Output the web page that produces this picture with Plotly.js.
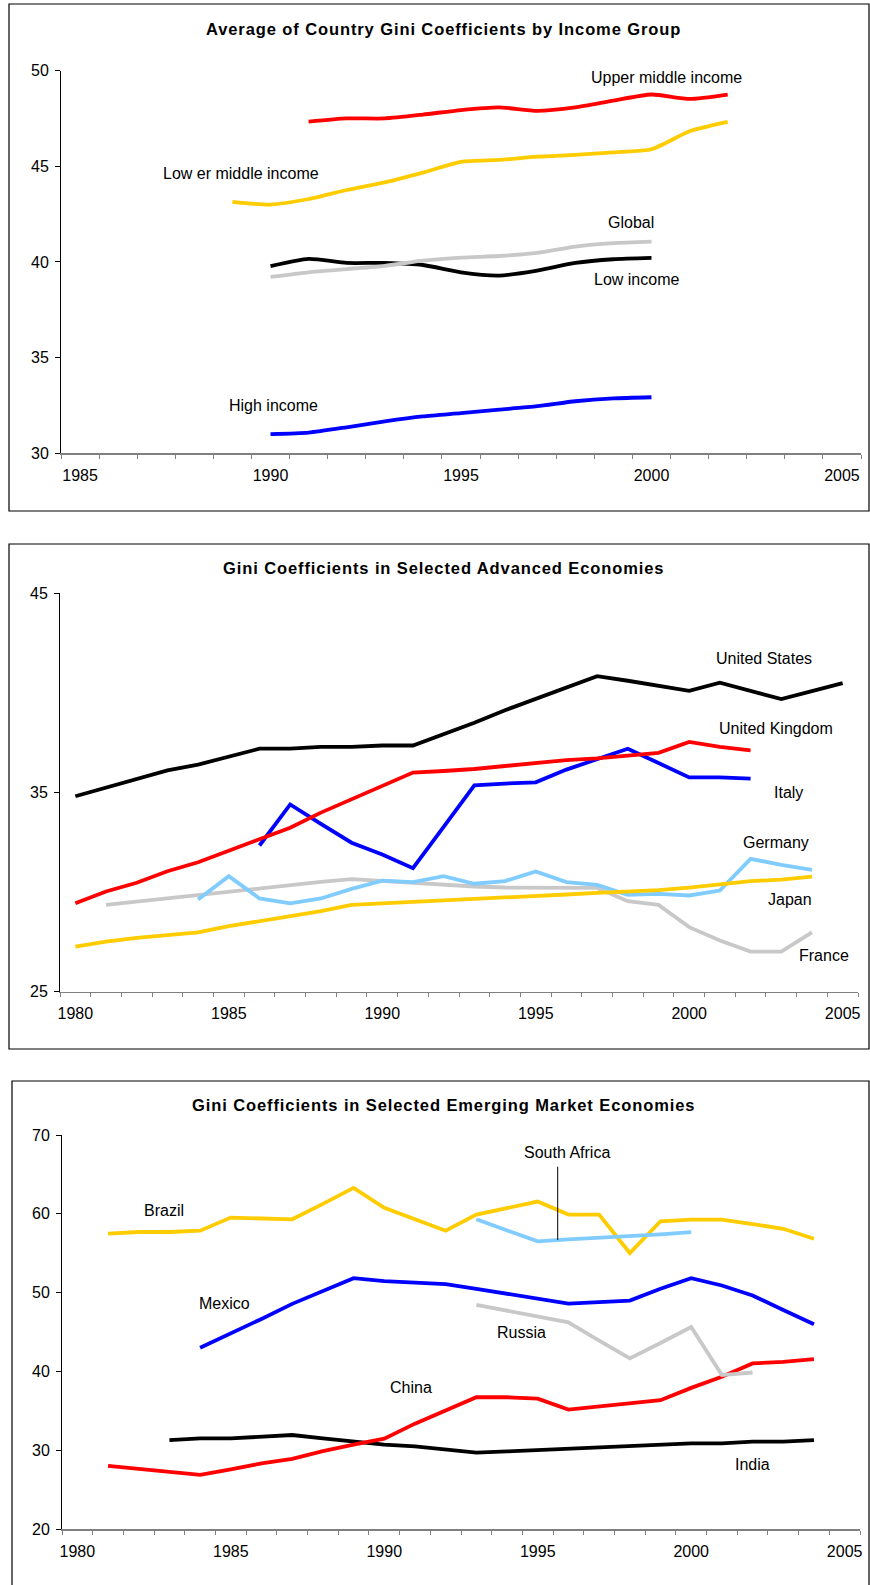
<!DOCTYPE html>
<html>
<head>
<meta charset="utf-8">
<script src="https://cdn.plot.ly/plotly-3.0.1.min.js"></script>
<style>
  html, body { margin: 0; padding: 0; background: #ffffff; }
  #chart { width: 870px; height: 1585px; }
</style>
</head>
<body>
<div id="chart"></div>
<script>
// ---------- Panel 1: Average of Country Gini Coefficients by Income Group ----------
const p1TickYears = [1985, 1990, 1995, 2000, 2005];
const upperMiddleYears = [1991, 1992, 1993, 1994, 1995, 1996, 1997, 1998, 1999, 2000, 2001, 2002];
const upperMiddle = [47.33, 47.5, 47.5, 47.7, 47.94, 48.08, 47.9, 48.08, 48.43, 48.75, 48.52, 48.75];
const lowerMiddleYears = [1989, 1990, 1991, 1992, 1993, 1994, 1995, 1996, 1997, 1998, 1999, 2000, 2001, 2002];
const lowerMiddle = [43.14, 43.0, 43.29, 43.76, 44.16, 44.67, 45.23, 45.33, 45.5, 45.6, 45.73, 45.89, 46.83, 47.32];
const p1Years = [1990, 1991, 1992, 1993, 1994, 1995, 1996, 1997, 1998, 1999, 2000];
const globalGini = [39.22, 39.46, 39.63, 39.8, 40.07, 40.23, 40.31, 40.47, 40.8, 40.98, 41.06];
const lowIncome = [39.78, 40.16, 39.95, 39.95, 39.84, 39.46, 39.29, 39.55, 39.95, 40.14, 40.21];
const highIncome = [31.0, 31.08, 31.36, 31.67, 31.93, 32.1, 32.28, 32.46, 32.72, 32.87, 32.93];
const p1YTicks = [30, 35, 40, 45, 50];

// ---------- Panel 2: Gini Coefficients in Selected Advanced Economies ----------
const p2TickYears = [1980, 1985, 1990, 1995, 2000, 2005];
const usYears = [1980, 1981, 1982, 1983, 1984, 1985, 1986, 1987, 1988, 1989, 1990, 1991, 1992,
                 1993, 1994, 1995, 1996, 1997, 1998, 1999, 2000, 2001, 2002, 2003, 2004, 2005];
const unitedStates = [34.81, 35.24, 35.7, 36.11, 36.4, 36.79, 37.2, 37.2, 37.29, 37.29, 37.36, 37.36, 37.93,
                      38.5, 39.13, 39.69, 40.27, 40.84, 40.61, 40.36, 40.1, 40.51, 40.1, 39.69, 40.09, 40.49];
const ukYears = [1980, 1981, 1982, 1983, 1984, 1985, 1986, 1987, 1988, 1989, 1990, 1991,
                 1992, 1993, 1994, 1995, 1996, 1997, 1998, 1999, 2000, 2001, 2002];
const unitedKingdom = [29.44, 30.03, 30.47, 31.05, 31.5, 32.09, 32.64, 33.23, 33.99, 34.66, 35.33, 36.0,
                       36.08, 36.18, 36.33, 36.48, 36.63, 36.71, 36.87, 36.99, 37.54, 37.29, 37.12];
const italyYears = [1986, 1987, 1988, 1989, 1990, 1991, 1992, 1993, 1994, 1995, 1996, 1997, 1998, 1999, 2000, 2001, 2002];
const italy = [32.34, 34.4, 33.43, 32.48, 31.89, 31.2, 33.27, 35.36, 35.45, 35.51, 36.15, 36.7, 37.2, 36.48, 35.76, 35.76, 35.7];
const germanyYears = [1984, 1985, 1986, 1987, 1988, 1989, 1990, 1991, 1992, 1993, 1994, 1995, 1996,
                      1997, 1998, 1999, 2000, 2001, 2002, 2003, 2004];
const germany = [29.63, 30.8, 29.68, 29.44, 29.68, 30.16, 30.58, 30.5, 30.8, 30.42, 30.55, 31.04, 30.5,
                 30.36, 29.86, 29.91, 29.83, 30.08, 31.67, 31.37, 31.12];
const franceYears = [1981, 1982, 1983, 1984, 1985, 1986, 1987, 1988, 1989, 1990, 1991, 1992, 1993,
                     1994, 1995, 1996, 1997, 1998, 1999, 2000, 2001, 2002, 2003, 2004];
const france = [29.36, 29.53, 29.7, 29.86, 30.03, 30.2, 30.36, 30.51, 30.65, 30.55, 30.47, 30.36, 30.28,
                30.23, 30.23, 30.23, 30.21, 29.54, 29.36, 28.24, 27.57, 27.01, 27.01, 27.98];
const japanYears = [1980, 1981, 1982, 1983, 1984, 1985, 1986, 1987, 1988, 1989, 1990, 1991, 1992,
                    1993, 1994, 1995, 1996, 1997, 1998, 1999, 2000, 2001, 2002, 2003, 2004];
const japan = [27.26, 27.51, 27.7, 27.85, 27.98, 28.29, 28.54, 28.79, 29.04, 29.36, 29.43, 29.49, 29.58,
               29.64, 29.73, 29.81, 29.88, 29.96, 30.01, 30.1, 30.23, 30.4, 30.55, 30.63, 30.78];
const p2YTicks = [25, 35, 45];

// ---------- Panel 3: Gini Coefficients in Selected Emerging Market Economies ----------
const p3TickYears = [1980, 1985, 1990, 1995, 2000, 2005];
const brazilYears = [1981, 1982, 1983, 1984, 1985, 1986, 1987, 1988, 1989, 1990, 1991, 1992,
                     1993, 1994, 1995, 1996, 1997, 1998, 1999, 2000, 2001, 2002, 2003, 2004];
const brazil = [57.48, 57.69, 57.69, 57.86, 59.52, 59.35, 59.3, 61.26, 63.29, 60.75, 59.35, 57.86,
                59.9, 60.75, 61.55, 59.9, 59.9, 55.02, 59.05, 59.26, 59.26, 58.7, 58.1, 56.84];
const southAfricaYears = [1993, 1994, 1995, 1996, 1997, 1998, 1999, 2000];
const southAfrica = [59.3, 57.9, 56.5, 56.75, 56.95, 57.15, 57.4, 57.68];
const mexicoYears = [1984, 1985, 1986, 1987, 1988, 1989, 1990, 1991, 1992, 1993, 1994, 1995, 1996,
                     1997, 1998, 1999, 2000, 2001, 2002, 2003, 2004];
const mexico = [43.0, 44.79, 46.66, 48.57, 50.22, 51.83, 51.45, 51.28, 51.07, 50.48, 49.88, 49.24, 48.61,
                48.78, 48.99, 50.48, 51.83, 50.9, 49.63, 47.8, 45.98];
const russiaYears = [1993, 1994, 1995, 1996, 1997, 1998, 1999, 2000, 2001, 2002];
const russia = [48.44, 47.7, 46.95, 46.23, 43.9, 41.65, 43.6, 45.64, 39.53, 39.86];
const chinaYears = [1981, 1982, 1983, 1984, 1985, 1986, 1987, 1988, 1989, 1990, 1991, 1992,
                    1993, 1994, 1995, 1996, 1997, 1998, 1999, 2000, 2001, 2002, 2003, 2004];
const china = [28.02, 27.64, 27.26, 26.88, 27.56, 28.32, 28.91, 29.89, 30.7, 31.46, 33.37, 34.98,
               36.72, 36.72, 36.55, 35.15, 35.58, 36.0, 36.34, 37.91, 39.31, 41.01, 41.22, 41.56];
const indiaYears = [1983, 1984, 1985, 1986, 1987, 1988, 1989, 1990, 1991, 1992, 1993, 1994, 1995,
                    1996, 1997, 1998, 1999, 2000, 2001, 2002, 2003, 2004];
const india = [31.29, 31.5, 31.5, 31.71, 31.93, 31.5, 31.08, 30.7, 30.48, 30.1, 29.68, 29.85, 30.02,
               30.19, 30.36, 30.53, 30.7, 30.87, 30.87, 31.08, 31.08, 31.29];
const p3YTicks = [20, 30, 40, 50, 60, 70];

// ---------- styling ----------
const W = 870, H = 1585;
const FONT = 'Arial, "Liberation Sans", Helvetica, sans-serif';
const COLORS = {
  red: '#FF0000', yellow: '#FFCC00', black: '#000000',
  gray: '#C8C8C8', blue: '#0000FF', lightblue: '#80CCFF'
};
const px = v => v / W;
const py = v => 1 - v / H;

function line(x, y, color, xa, ya, smooth) {
  const l = { color: color, width: 3.8 };
  if (smooth) { l.shape = 'spline'; l.smoothing = 0.6; }
  return { type: 'scatter', mode: 'lines', x: x, y: y, xaxis: xa, yaxis: ya,
           line: l, hoverinfo: 'skip', showlegend: false };
}

const traces = [
  line(p1Years, highIncome, COLORS.blue, 'x', 'y', true),
  line(p1Years, lowIncome, COLORS.black, 'x', 'y', true),
  line(p1Years, globalGini, COLORS.gray, 'x', 'y', true),
  line(lowerMiddleYears, lowerMiddle, COLORS.yellow, 'x', 'y', true),
  line(upperMiddleYears, upperMiddle, COLORS.red, 'x', 'y', true),

  line(usYears, unitedStates, COLORS.black, 'x2', 'y2'),
  line(italyYears, italy, COLORS.blue, 'x2', 'y2'),
  line(ukYears, unitedKingdom, COLORS.red, 'x2', 'y2'),
  line(franceYears, france, COLORS.gray, 'x2', 'y2'),
  line(germanyYears, germany, COLORS.lightblue, 'x2', 'y2'),
  line(japanYears, japan, COLORS.yellow, 'x2', 'y2'),

  line(indiaYears, india, COLORS.black, 'x3', 'y3'),
  line(chinaYears, china, COLORS.red, 'x3', 'y3'),
  line(russiaYears, russia, COLORS.gray, 'x3', 'y3'),
  line(mexicoYears, mexico, COLORS.blue, 'x3', 'y3'),
  line(brazilYears, brazil, COLORS.yellow, 'x3', 'y3'),
  line(southAfricaYears, southAfrica, COLORS.lightblue, 'x3', 'y3')
];

function xAxis(domain, range, tickvals, anchor) {
  return {
    domain: domain, range: range, anchor: anchor,
    tickmode: 'array', tickvals: tickvals, ticktext: tickvals.map(String),
    ticks: 'outside', ticklen: 0, tickcolor: '#808080',
    minor: { ticks: 'outside', ticklen: 4, tickcolor: '#808080', tickwidth: 1,
             tick0: 0.5, dtick: 1, showgrid: false },
    showline: true, linecolor: '#808080', linewidth: 1.5,
    showgrid: false, zeroline: false, fixedrange: true,
    tickfont: { family: FONT, size: 16, color: '#000' },
    ticklabelstandoff: 7
  };
}
function yAxis(domain, range, tickvals, anchor) {
  return {
    domain: domain, range: range, anchor: anchor,
    tickmode: 'array', tickvals: tickvals, ticktext: tickvals.map(String),
    ticks: 'outside', ticklen: 5, tickcolor: '#000', tickwidth: 1,
    showline: true, linecolor: '#000', linewidth: 1,
    showgrid: false, zeroline: false, fixedrange: true,
    tickfont: { family: FONT, size: 16, color: '#000' },
    ticklabelstandoff: 3
  };
}

function label(text, x, y, opts) {
  return Object.assign({
    text: text, xref: 'paper', yref: 'paper', x: px(x), y: py(y),
    xanchor: 'center', yanchor: 'middle', showarrow: false,
    font: { family: FONT, size: 16, color: '#000' }
  }, opts || {});
}
function title(text, x, y) {
  return label('<span style="letter-spacing:0.9px"><b>' + text + '</b></span>', x, y,
               { font: { family: FONT, size: 16.5, color: '#000' } });
}

const layout = {
  width: W, height: H,
  margin: { l: 0, r: 0, t: 0, b: 0 },
  paper_bgcolor: '#ffffff', plot_bgcolor: 'rgba(0,0,0,0)',
  showlegend: false,
  font: { family: FONT, size: 16, color: '#000' },

  xaxis:  xAxis([px(61), px(861)], [1984.5, 2005.5], p1TickYears, 'y'),
  yaxis:  yAxis([py(453.3), py(70.6)], [30, 50], p1YTicks, 'x'),
  xaxis2: xAxis([px(60), px(858)], [1979.5, 2005.5], p2TickYears, 'y2'),
  yaxis2: yAxis([py(991.7), py(593.3)], [25, 45], p2YTicks, 'x2'),
  xaxis3: xAxis([px(62), px(860)], [1979.5, 2005.5], p3TickYears, 'y3'),
  yaxis3: yAxis([py(1529), py(1135)], [20, 70], p3YTicks, 'x3'),

  shapes: [
    { type: 'rect', xref: 'paper', yref: 'paper', x0: px(9), x1: px(869), y0: py(511), y1: py(4),
      line: { color: '#000', width: 1.2 }, fillcolor: 'rgba(0,0,0,0)', layer: 'below' },
    { type: 'rect', xref: 'paper', yref: 'paper', x0: px(9), x1: px(869), y0: py(1049), y1: py(544),
      line: { color: '#000', width: 1.2 }, fillcolor: 'rgba(0,0,0,0)', layer: 'below' },
    { type: 'rect', xref: 'paper', yref: 'paper', x0: px(12), x1: px(869), y0: py(1600), y1: py(1081),
      line: { color: '#000', width: 1.2 }, fillcolor: 'rgba(0,0,0,0)', layer: 'below' },
    // South Africa leader line
    { type: 'line', xref: 'paper', yref: 'paper', x0: px(557.7), x1: px(557.7), y0: py(1240), y1: py(1166.7),
      line: { color: '#000', width: 1 } }
  ],

  annotations: [
    title('Average of Country Gini Coefficients by Income Group', 443, 29.3),
    label('Upper middle income', 666, 77),
    label('Low er middle income', 241, 173),
    label('Global', 631, 222.7),
    label('Low income', 636, 279.3),
    label('High income', 273, 405.7),

    title('Gini Coefficients in Selected Advanced Economies', 443, 568.3),
    label('United States', 764, 658.3),
    label('United Kingdom', 776, 728.3),
    label('Italy', 788, 792.3),
    label('Germany', 776, 842.3),
    label('Japan', 790, 899.3),
    label('France', 824, 955),

    title('Gini Coefficients in Selected Emerging Market Economies', 443, 1105),
    label('South Africa', 567, 1152.7),
    label('Brazil', 163.7, 1210.7),
    label('Mexico', 224, 1303.3),
    label('Russia', 521.6, 1332.7),
    label('China', 410.7, 1387.7),
    label('India', 752.5, 1464.3)
  ]
};

Plotly.newPlot('chart', traces, layout, { staticPlot: true, displayModeBar: false });
</script>
</body>
</html>
